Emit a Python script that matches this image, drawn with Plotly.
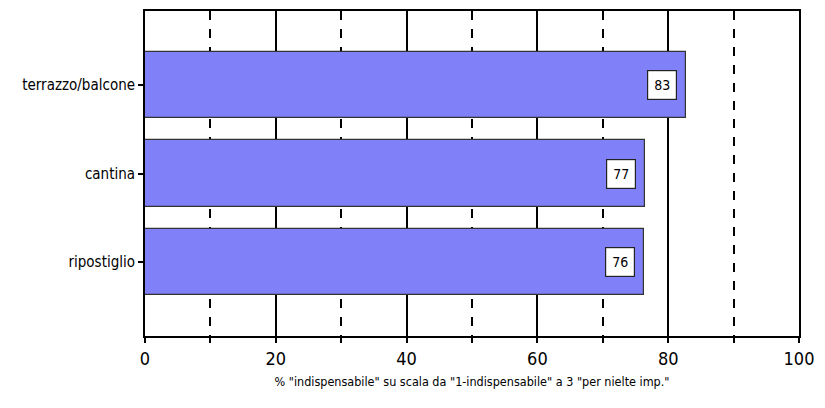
import plotly.graph_objects as go

categories = ["terrazzo/balcone", "cantina", "ripostiglio"]
values = [82.7, 76.5, 76.3]
labels = ["83", "77", "76"]
x_title = '% "indispensabile" su scala da "1-indispensabile" a 3 "per nielte imp."'

FONT = "DejaVu Sans Condensed, sans-serif"

fig = go.Figure()
fig.add_trace(go.Bar(
    y=categories, x=values, orientation="h",
    marker=dict(color="#8080F8", line=dict(color="#333333", width=1.2)),
    width=0.75, hoverinfo="skip",
))

for c, v, t in zip(categories, values, labels):
    fig.add_annotation(
        x=v, y=c, text=t, showarrow=False, xanchor="right", xshift=-9,
        bgcolor="white", bordercolor="#222222", borderwidth=1.2, borderpad=6,
        font=dict(family=FONT, size=14, color="black"),
    )

fig.update_layout(
    width=825, height=408,
    margin=dict(l=145, r=26, t=9, b=72),
    plot_bgcolor="white", paper_bgcolor="white",
    showlegend=False,
    font=dict(family=FONT, color="black"),
    bargap=0,
)
fig.update_xaxes(
    range=[0, 100], dtick=20, tick0=0,
    showgrid=True, gridcolor="black", gridwidth=2,
    showline=True, linecolor="black", linewidth=2, mirror=True,
    ticks="outside", ticklen=5, tickwidth=2, tickcolor="black",
    tickfont=dict(size=18, family=FONT),
    minor=dict(dtick=10, tick0=0, showgrid=True, gridcolor="black", gridwidth=2,
               griddash="dash", ticks="outside", ticklen=5, tickwidth=2, tickcolor="black"),
    zeroline=False,
    title=dict(text=x_title, font=dict(size=12.5, family=FONT), standoff=10),
)
fig.update_yaxes(
    categoryorder="array", categoryarray=categories,
    autorange=False, range=[2.84, -0.84],
    showline=True, linecolor="black", linewidth=2, mirror=True,
    ticks="outside", ticklen=5, tickwidth=2, tickcolor="black",
    tickfont=dict(size=15, family=FONT),
    showgrid=False, zeroline=False,
)

fig.write_html("out.html")
